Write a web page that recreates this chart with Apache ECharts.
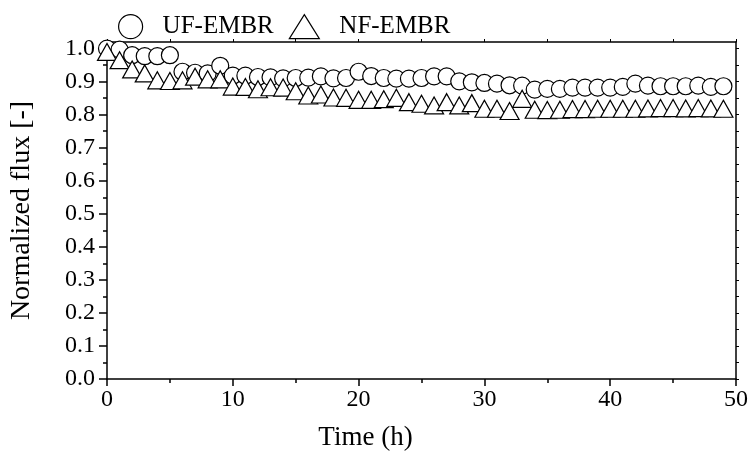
<!DOCTYPE html>
<html>
<head>
<meta charset="utf-8">
<script src="https://cdn.jsdelivr.net/npm/echarts@6/dist/echarts.min.js"></script>
<style>html,body{margin:0;padding:0;background:#fff}#c{width:753px;height:465px}</style>
</head>
<body>
<div id="c"></div>
<script>
var timeH = [0,1,2,3,4,5,6,7,8,9,10,11,12,13,14,15,16,17,18,19,20,21,22,23,24,25,26,27,28,29,30,31,32,33,34,35,36,37,38,39,40,41,42,43,44,45,46,47,48,49];
var ufEmbr = [1.0,0.997,0.98,0.977,0.977,0.98,0.93,0.927,0.925,0.948,0.918,0.918,0.914,0.913,0.91,0.911,0.912,0.916,0.91,0.911,0.93,0.917,0.911,0.909,0.909,0.911,0.916,0.916,0.901,0.898,0.896,0.894,0.889,0.888,0.876,0.878,0.878,0.882,0.882,0.882,0.882,0.884,0.894,0.888,0.886,0.886,0.886,0.888,0.884,0.886];
var nfEmbr = [0.99,0.965,0.937,0.925,0.904,0.902,0.904,0.915,0.907,0.907,0.885,0.884,0.877,0.883,0.882,0.871,0.858,0.861,0.852,0.851,0.845,0.845,0.847,0.851,0.838,0.833,0.828,0.838,0.828,0.835,0.818,0.818,0.811,0.848,0.815,0.814,0.815,0.817,0.817,0.818,0.818,0.818,0.818,0.819,0.82,0.82,0.819,0.82,0.819,0.818];
var yMajorTicks = [0,0.1,0.2,0.3,0.4,0.5,0.6,0.7,0.8,0.9,1.0];
var yMinorTicks = [0.05,0.15,0.25,0.35,0.45,0.55,0.65,0.75,0.85,0.95];
var xTopTicks = [0,5,10,15,20,25,30,35,40,45,50];
var seriesNames = ['UF-EMBR','NF-EMBR'];

function pairs(xs, ys){ return xs.map(function(x,i){ return [x, ys[i]]; }); }

var FONT = "'Liberation Serif','Times New Roman',serif";
var chart = echarts.init(document.getElementById('c'), null, {renderer:'canvas'});
var black = '#000';
chart.setOption({
  animation: false,
  backgroundColor: '#fff',
  textStyle: {fontFamily: FONT, color: black},
  grid: {left: 107, right: 17, top: 42, bottom: 86, containLabel: false},
  legend: {
    left: 113, top: 9,
    itemWidth: 30, itemHeight: 24, itemGap: 15,
    textStyle: {fontFamily: FONT, fontSize: 25, color: black, padding: [0,0,0,12]},
    data: [
      {name: seriesNames[0], icon: 'circle', itemStyle: {color: '#fff', borderColor: black, borderWidth: 1.2}},
      {name: seriesNames[1], icon: 'triangle', itemStyle: {color: '#fff', borderColor: black, borderWidth: 1.2},
        textStyle: {fontFamily: FONT, fontSize: 25, color: black, padding: [0,0,0,15]}}
    ]
  },
  xAxis: [
    {
      type: 'value', position: 'bottom', min: 0, max: 50, interval: 10,
      name: 'Time (h)', nameLocation: 'middle', nameGap: 45,
      nameTextStyle: {fontFamily: FONT, fontSize: 27, color: black, padding: [0, 112, 0, 0]},
      axisLine: {onZero: false, lineStyle: {color: black, width: 1.5}},
      axisTick: {inside: false, length: 7, lineStyle: {color: black, width: 1.5}},
      minorTick: {show: true, splitNumber: 2, length: 4, lineStyle: {color: black, width: 1.5}},
      axisLabel: {fontFamily: FONT, fontSize: 24, color: black, margin: 9},
      splitLine: {show: false}
    },
    {
      type: 'value', position: 'top', min: 0, max: 50,
      axisLine: {onZero: false, lineStyle: {color: black, width: 1.5}},
      axisTick: {customValues: xTopTicks, inside: false, length: 3, lineStyle: {color: black, width: 1}},
      axisLabel: {show: false},
      splitLine: {show: false}
    }
  ],
  yAxis: [
    {
      type: 'value', position: 'left', min: 0, max: 1.02,
      name: 'Normalized flux [-]', nameLocation: 'middle', nameGap: 71, nameRotate: 90,
      nameTextStyle: {fontFamily: FONT, fontSize: 28, color: black},
      axisLine: {show: true, onZero: false, lineStyle: {color: black, width: 1.5}},
      axisTick: {show: true, customValues: yMajorTicks, inside: false, length: 8, lineStyle: {color: black, width: 1.5}},
      axisLabel: {customValues: yMajorTicks, fontFamily: FONT, fontSize: 24, color: black, margin: 12,
        formatter: function(v){ return v.toFixed(1); }},
      splitLine: {show: false}
    },
    {
      type: 'value', position: 'left', min: 0, max: 1.02,
      axisLine: {show: false, onZero: false},
      axisTick: {show: true, customValues: yMinorTicks, inside: false, length: 4, lineStyle: {color: black, width: 1.5}},
      axisLabel: {show: false},
      splitLine: {show: false}
    },
    {
      type: 'value', position: 'right', min: 0, max: 1.02,
      axisLine: {show: true, onZero: false, lineStyle: {color: black, width: 1.5}},
      axisTick: {show: true, customValues: yMajorTicks.concat(yMinorTicks), inside: false, length: 3, lineStyle: {color: black, width: 1}},
      axisLabel: {show: false},
      splitLine: {show: false}
    }
  ],
  series: [
    {
      name: seriesNames[0], type: 'scatter', xAxisIndex: 0, yAxisIndex: 0,
      symbol: 'circle', symbolSize: 17,
      itemStyle: {color: '#fff', borderColor: black, borderWidth: 1.2, opacity: 1},
      data: pairs(timeH, ufEmbr), z: 3
    },
    {
      name: seriesNames[1], type: 'scatter', xAxisIndex: 0, yAxisIndex: 0,
      symbol: 'triangle', symbolSize: [19, 17],
      itemStyle: {color: '#fff', borderColor: black, borderWidth: 1.2, opacity: 1},
      data: pairs(timeH, nfEmbr), z: 4
    }
  ]
});
</script>
</body>
</html>
